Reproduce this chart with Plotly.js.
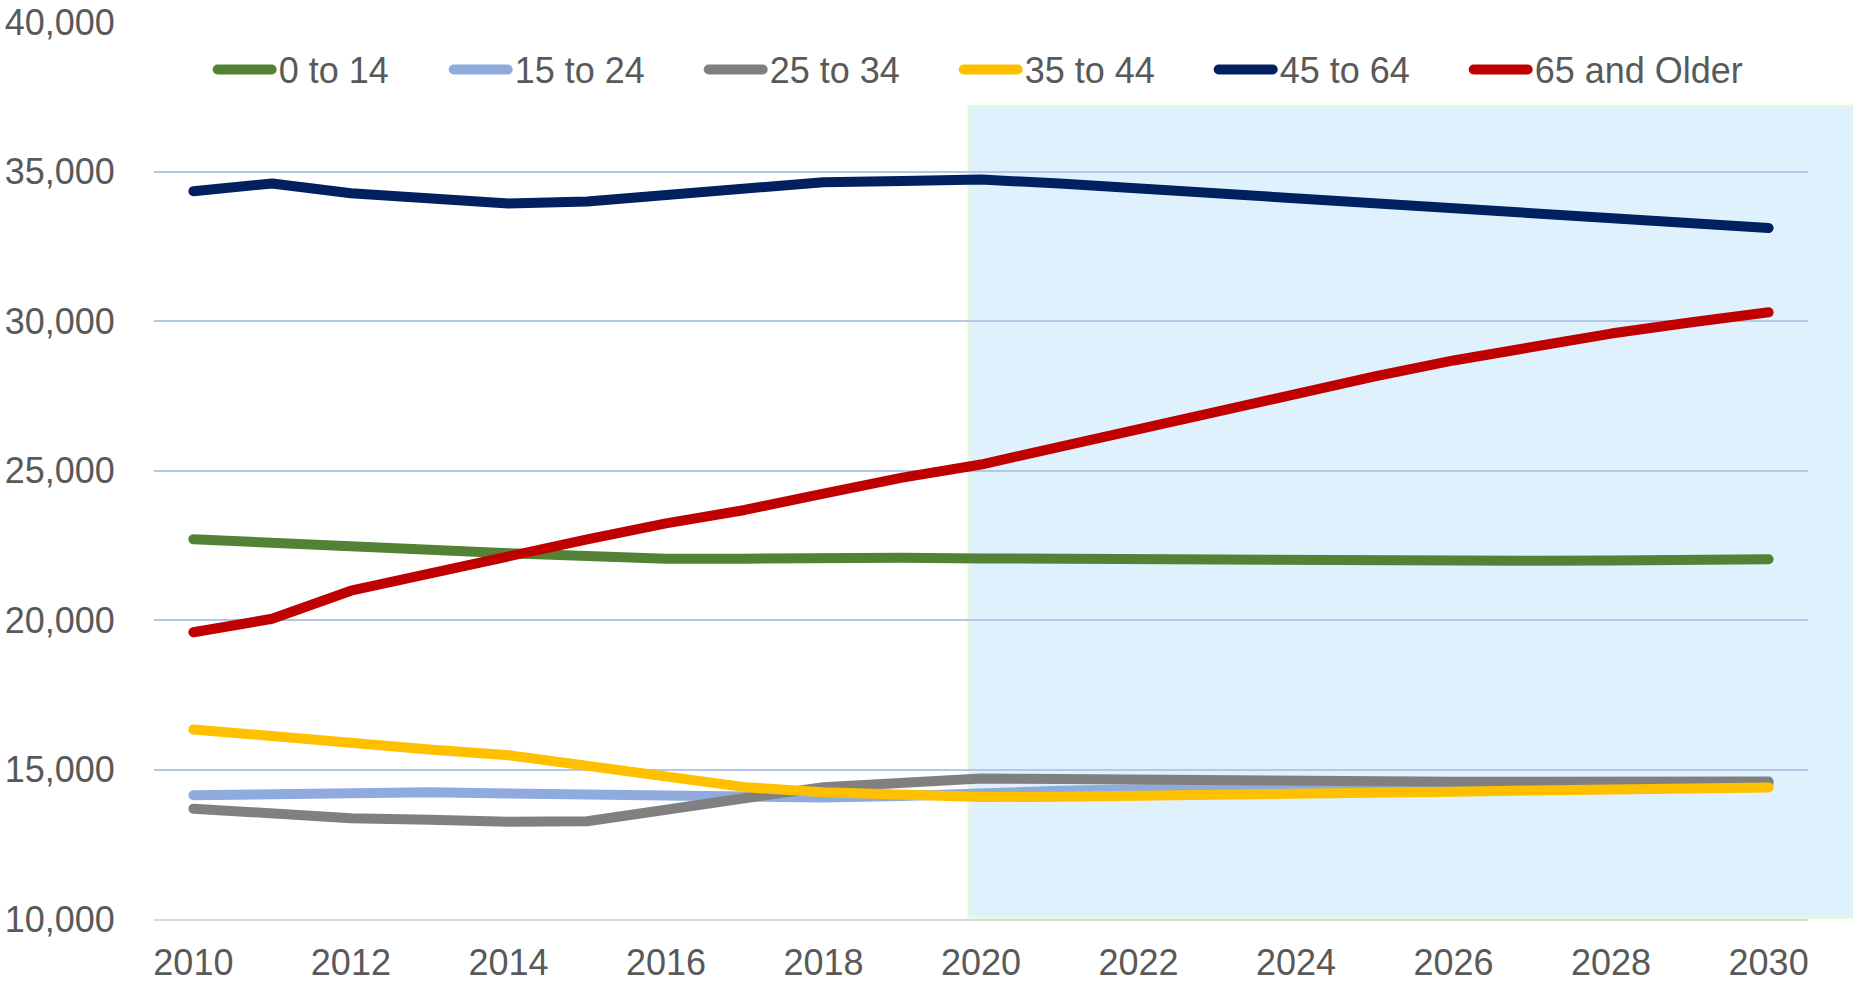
<!DOCTYPE html>
<html>
<head>
<meta charset="utf-8">
<script src="https://cdn.plot.ly/plotly-3.0.1.min.js"></script>
<style>
  html, body { margin: 0; padding: 0; background: #ffffff; }
  #chart { width: 1853px; height: 984px; }
  .js-line { stroke-linecap: round; stroke-linejoin: round; }
</style>
</head>
<body>
<div id="chart"></div>
<script>
// ---- data (population by age group) ----
const years = [2010, 2011, 2012, 2013, 2014, 2015, 2016, 2017, 2018, 2019, 2020,
               2021, 2022, 2023, 2024, 2025, 2026, 2027, 2028, 2029, 2030];

const seriesNames = ["0 to 14", "15 to 24", "25 to 34", "35 to 44", "45 to 64", "65 and Older"];

const age0to14 = [22700, 22565, 22410, 22350, 22230, 22125, 22050, 22050, 22090, 22080, 22060,
                  22040, 22020, 21990, 21980, 21980, 21980, 21980, 21990, 22010, 22030];
const age15to24 = [14140, 14180, 14140, 14240, 14200, 14160, 14110, 14090, 14060, 14110, 14220,
                   14290, 14340, 14370, 14400, 14420, 14440, 14460, 14470, 14480, 14490];
const age25to34 = [13690, 13550, 13370, 13320, 13250, 13270, 13690, 14040, 14410, 14550, 14700,
                   14680, 14650, 14620, 14600, 14590, 14590, 14590, 14590, 14595, 14600];
const age35to44 = [16340, 16100, 15860, 15670, 15480, 15150, 14770, 14410, 14240, 14140, 14080,
                   14090, 14110, 14140, 14180, 14220, 14260, 14300, 14340, 14370, 14400];
const age45to64 = [34340, 34600, 34270, 34090, 33930, 34000, 34210, 34460, 34640, 34680, 34730,
                   34600, 34440, 34270, 34100, 33940, 33780, 33610, 33450, 33280, 33110];
const age65plus = [19590, 20040, 20980, 21570, 22080, 22700, 23230, 23680, 24230, 24760, 25200,
                   25800, 26400, 26980, 27600, 28150, 28680, 29150, 29580, 29950, 30290];

const seriesValues = [age0to14, age15to24, age25to34, age35to44, age45to64, age65plus];
const seriesColors = ["#548235", "#8FAADC", "#808080", "#FFC000", "#002060", "#C00000"];

const yTickValues = [10000, 15000, 20000, 25000, 30000, 35000, 40000];
const xTickValues = [2010, 2012, 2014, 2016, 2018, 2020, 2022, 2024, 2026, 2028, 2030];

// ---- traces ----
const LINE_W = 10;
const traces = seriesNames.map((name, i) => ({
  type: "scatter",
  mode: "lines",
  name: name,
  x: years,
  y: seriesValues[i],
  line: { color: seriesColors[i], width: LINE_W },
  hoverinfo: "x+y+name"
}));

const textColor = "#595959";
const fontFamily = "Liberation Sans, Arial, sans-serif";
const FS = 36;

const layout = {
  width: 1853,
  height: 984,
  margin: { l: 154, r: 45, t: 22, b: 65, pad: 0 },
  paper_bgcolor: "#ffffff",
  plot_bgcolor: "rgba(0,0,0,0)",
  font: { family: fontFamily, size: FS, color: textColor },
  showlegend: true,
  legend: {
    orientation: "h",
    x: 0.024,
    xanchor: "left",
    y: 0.947,
    yanchor: "middle",
    bgcolor: "rgba(0,0,0,0)",
    borderwidth: 0,
    font: { family: fontFamily, size: FS, color: textColor },
    itemwidth: 56,
    entrywidth: 184,
    entrywidthmode: "pixels",
    traceorder: "normal",
    itemclick: false,
    itemdoubleclick: false
  },
  xaxis: {
    type: "linear",
    range: [2009.5, 2030.5],
    tickmode: "array",
    tickvals: xTickValues,
    ticktext: xTickValues.map(String),
    ticks: "outside",
    ticklen: 11,
    tickcolor: "rgba(0,0,0,0)",
    showgrid: false,
    zeroline: false,
    showline: true,
    linecolor: "#D9D9D9",
    linewidth: 2,
    tickfont: { family: fontFamily, size: FS, color: textColor },
    fixedrange: true
  },
  yaxis: {
    range: [10000, 40000],
    tickmode: "array",
    tickvals: yTickValues,
    ticktext: yTickValues.map(v => v.toLocaleString("en-US")),
    ticks: "outside",
    ticklen: 31,
    tickcolor: "rgba(0,0,0,0)",
    showgrid: true,
    gridcolor: "#B4C7E7",
    gridwidth: 2,
    zeroline: false,
    showline: false,
    tickfont: { family: fontFamily, size: FS, color: textColor },
    fixedrange: true
  },
  shapes: [
    {
      // projection period shading (starts just before 2020, runs to the page edge)
      type: "rect",
      xref: "paper",
      yref: "paper",
      x0: 0.4928,
      x1: 1.03,
      y0: 0.002,
      y1: 0.906,
      fillcolor: "#DFF1FD",
      line: { color: "#E3F8E1", width: 3 },
      layer: "below"
    }
  ]
};

Plotly.newPlot("chart", traces, layout, { displayModeBar: false }).then(gd => {
  // lengthen legend line symbols to match the reference
  document.querySelectorAll(".legend .legendlines path").forEach(p => {
    p.setAttribute("d", "M5,0h54");
    p.style.strokeLinecap = "round";
  });
  // let the last legend label ("65 and Older") overflow its fixed-width slot
  document.querySelectorAll(".legend .scrollbox, .legend").forEach(g => {
    g.removeAttribute("clip-path");
  });
  // the first entry's slot is narrower in the reference: nudge it right
  const items = document.querySelectorAll(".legend .traces");
  if (items.length) {
    const t = items[0].getAttribute("transform") || "";
    const m = t.match(/translate\(\s*([-\d.]+)[ ,]+([-\d.]+)\s*\)/);
    if (m) {
      items[0].setAttribute("transform",
        "translate(" + (parseFloat(m[1]) + 19) + "," + m[2] + ")");
    }
  }
});
</script>
</body>
</html>
